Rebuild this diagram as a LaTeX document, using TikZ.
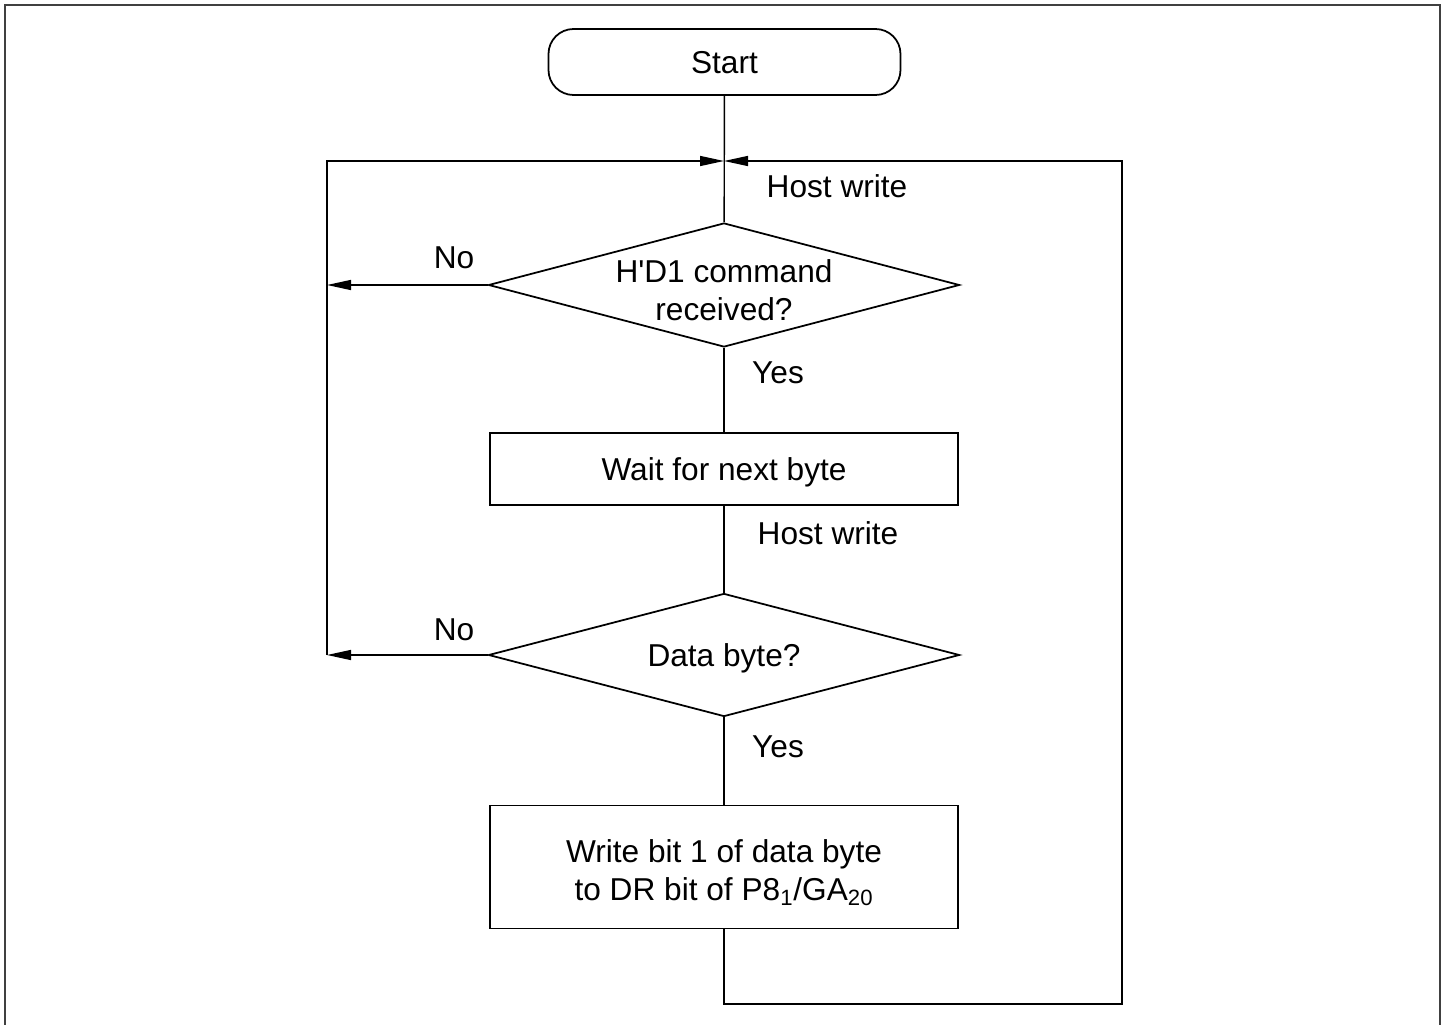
\documentclass[tikz,border=0pt]{standalone}
\usepackage{fontspec}
\setmainfont{Liberation Sans}
\usepackage{xcolor}
\usetikzlibrary{arrows.meta,positioning,shapes.geometric,calc}

\begin{document}
\begin{tikzpicture}[
font=\fontsize{18}{21.5}\selectfont,
line width=0.8pt,
box/.style={draw, line width=1pt, minimum width=9.36cm, align=center, inner sep=0pt, text depth=0pt},
term/.style={draw, line width=1pt, rounded corners=0.5cm, minimum width=7.04cm, minimum height=1.32cm, text depth=0pt},
decision/.style={draw, diamond, line width=1pt, aspect=3.8, minimum width=9.42cm, minimum height=2.48cm, inner sep=0pt, align=center, text depth=0pt},
arr/.style={-{Triangle[length=0.48cm, width=0.2cm]}},
lbl/.style={inner sep=0pt}
]
\useasboundingbox (0,0) rectangle (28.94,-20.5);
\draw[black!75, line width=0.6pt] (0.1,-20.5) -- (0.1,-0.1) -- (28.8,-0.1) -- (28.8,-20.5);

\node[decision, inner sep=-0.12cm] (cmd) at (14.48,-5.7) {\rule{0pt}{0.66cm}H\textquotesingle D1 command\\received?};
\node[term] (start) at (14.49,-1.24) {Start};
\node[box, minimum height=1.44cm] (wait) at (14.48,-9.38) {Wait for next byte};
\node[decision, minimum height=2.46cm] (data) at (14.48,-13.1) {Data byte?};
\node[box, minimum height=2.46cm] (wbit) at (14.48,-17.34) {\rule{0pt}{0.58cm}Write bit 1 of data byte\\to DR bit of P8\textsubscript{1}/GA\textsubscript{20}};

\coordinate (jn) at (14.48,-3.22);
\coordinate (lft) at (6.54,-3.22);
\coordinate (rgt) at (22.44,-3.22);
\coordinate (bot) at (22.44,-20.08);

\node[lbl, anchor=west] (hw1) at (15.32,-3.72) {Host write};
\node[lbl] (no1) at (9.08,-5.16) {No};
\node[lbl] (yes1) at (15.56,-7.46) {Yes};
\node[lbl, anchor=west] (hw2) at (15.14,-10.66) {Host write};
\node[lbl] (no2) at (9.08,-12.6) {No};
\node[lbl] (yes2) at (15.56,-14.94) {Yes};

\draw (start) -- (cmd);
\draw (cmd) -- (wait);
\draw (wait) -- (data);
\draw (data) -- (wbit);

\draw[arr] (cmd.west) -- (cmd.west -| lft);
\draw[arr] (data.west) -- (data.west -| lft);
\draw[arr] (data.west -| lft) -- (lft) -- (jn);
\draw[arr] (wbit.south) -- (wbit.south |- bot) -- (bot) -- (rgt) -- (jn);
\end{tikzpicture}
\end{document}
